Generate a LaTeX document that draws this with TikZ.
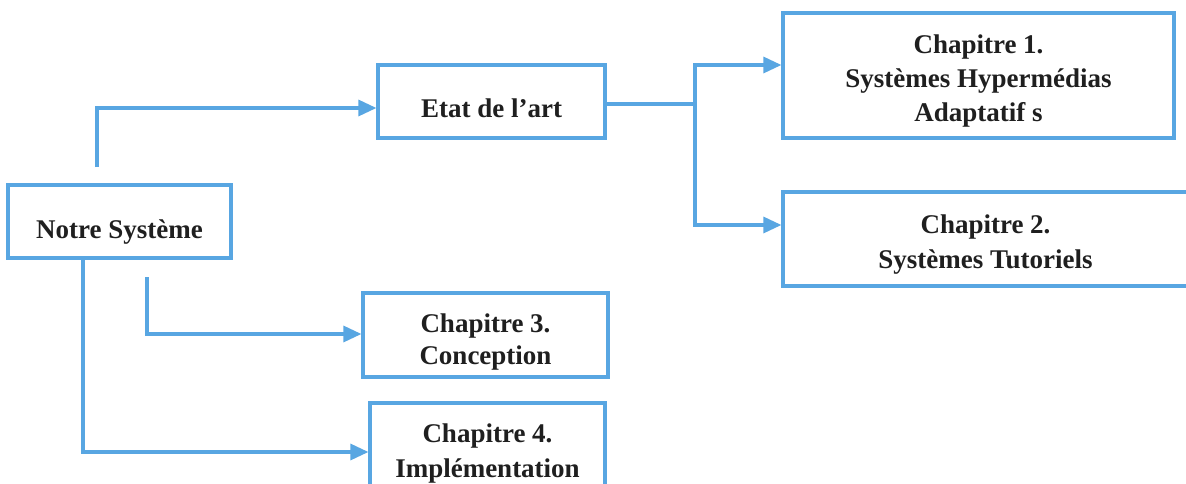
\documentclass[tikz,border=0pt]{standalone}
\usepackage{fontspec}
\setmainfont{Liberation Serif}
\usetikzlibrary{arrows.meta}
\definecolor{lb}{RGB}{88,166,226}
\newcommand\TopS[1]{\rule{0pt}{#1pt}}
\newcommand\BotS[1]{\rule[-#1pt]{0pt}{#1pt}}
\begin{document}
\begin{tikzpicture}[x=1pt,y=-1pt,
  box/.style={draw=lb,line width=3.2pt,fill=white,inner sep=0pt,align=center,
    font=\fontsize{27}{32}\selectfont\bfseries,text=black!88},
  link/.style={draw=lb,line width=3.2pt},
  conn/.style={link,-{Triangle[length=18pt,width=16pt]}}]
\useasboundingbox (0,0) rectangle (1186,484);
\clip (0,0) rectangle (1186,484);
\fill[white] (0,0) rectangle (1186,484);
\node[box,minimum width=223pt,minimum height=73pt] (notre) at (119.5,221.5)
  {\TopS{41}Notre Système\BotS{8}};
\node[box,minimum width=227pt,minimum height=73pt] (etat) at (491.5,101.5)
  {\TopS{41}Etat de l’art\BotS{8}};
\node[box,minimum width=391pt,minimum height=125pt] (chap1) at (978.5,75.5)
  {\TopS{33}Chapitre 1.\\[2pt]Systèmes Hypermédias\\[2pt]Adaptatif s\BotS{8}};
\node[box,minimum width=405pt,minimum height=94pt] (chap2) at (985.5,239)
  {\TopS{31}Chapitre 2.\\[3pt]Systèmes Tutoriels\BotS{8}};
\node[box,minimum width=245pt,minimum height=84pt] (chap3) at (485.5,335)
  {\TopS{34}Chapitre 3.\\Conception\BotS{8}};
\node[box,minimum width=235pt,minimum height=100pt] (chap4) at (487.5,453)
  {\TopS{28}Chapitre 4.\\[3pt]Implémentation\BotS{15}};
\coordinate (n1) at (97,167);
\coordinate (j) at (695,104);
\coordinate (n3) at (147,277);
\draw[conn] (n1) |- ([yshift=-6.5pt]etat.west);
\draw[link] ([yshift=-2.5pt]etat.east) -- (j);
\draw[conn] (j) |- ([yshift=10.5pt]chap1.west);
\draw[conn] (j) |- ([yshift=14pt]chap2.west);
\draw[conn] (n3) |- ([yshift=1pt]chap3.west);
\draw[conn] ([xshift=-36.5pt]notre.south) |- ([yshift=1pt]chap4.west);
\end{tikzpicture}
\end{document}
